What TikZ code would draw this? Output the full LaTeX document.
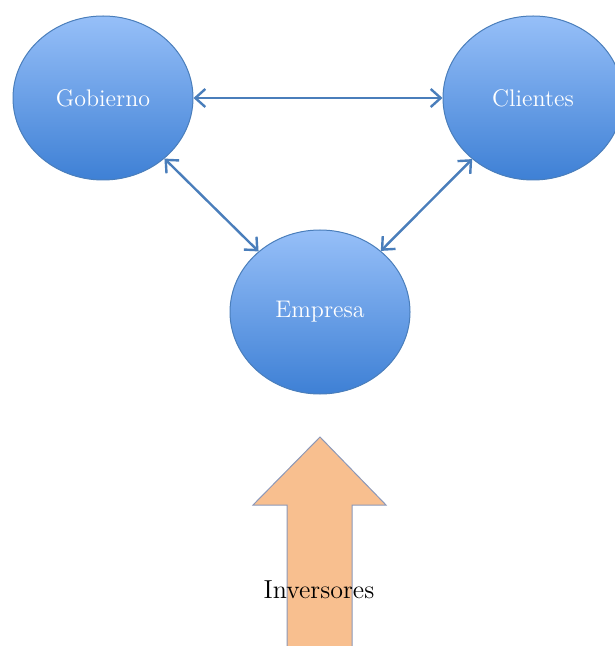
\documentclass[tikz,border=0pt]{standalone}
\usepackage{tikz}
\usetikzlibrary{shapes.geometric,arrows.meta}
\definecolor{blueTop}{RGB}{150,191,248}
\definecolor{blueBot}{RGB}{62,128,213}
\definecolor{blueLine}{RGB}{74,126,187}
\definecolor{peach}{RGB}{248,191,143}
\definecolor{peachLine}{RGB}{140,152,184}

\begin{document}
\begin{tikzpicture}[x=.5pt,y=-.5pt,line width=.5pt,
  actor/.style={ellipse,draw=blueLine,top color=blueTop,bottom color=blueBot,
    minimum width=90pt,minimum height=82pt,inner sep=0pt,text=white,
    font=\fontsize{12}{14}\selectfont},
  link/.style={draw=blueLine,line width=1.2pt,{Straight Barb[length=5pt,width=9pt]}-{Straight Barb[length=5pt,width=9pt]}}]
\useasboundingbox (0,0) rectangle (614,646);
\node[actor] (gob) at (103,98) {Gobierno};
\node[actor] (cli) at (533,98) {Clientes};
\node[actor] (emp) at (320,312) {Empresa};
\draw[link] (gob)--(cli);
\draw[link] (gob)--(emp);
\draw[link] (cli)--(emp);
\draw[fill=peach,draw=peachLine] (320,437)--(386,505)--(352,505)--(352,648)--(287,648)--(287,505)--(253,505)--cycle;
\node[font=\fontsize{13}{15}\selectfont] (inv) at (319,590) {Inversores};
\end{tikzpicture}
\end{document}
